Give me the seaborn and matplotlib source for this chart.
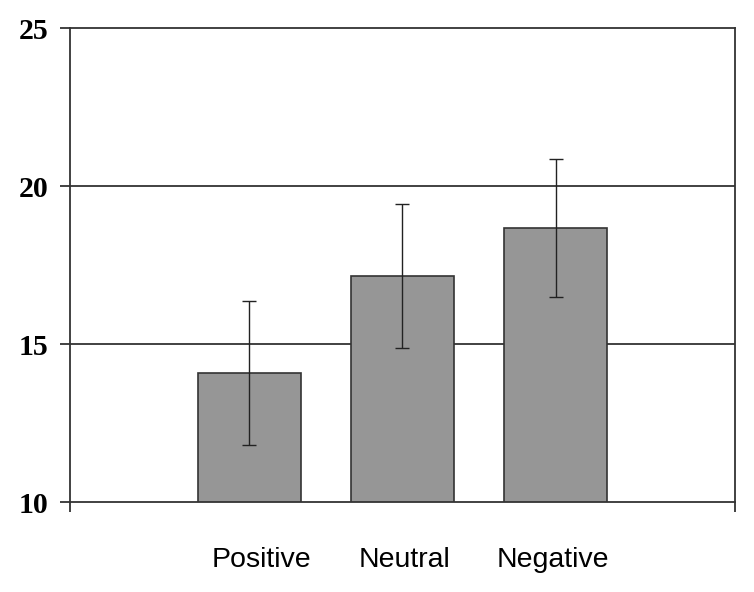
import numpy as np
import pandas as pd
import matplotlib
matplotlib.use("Agg")
import matplotlib.pyplot as plt
import seaborn as sns

categories = ["Positive", "Neutral", "Negative"]
means = [14.08, 17.15, 18.67]
errors = [2.29, 2.29, 2.18]
y_ticks = [10, 15, 20, 25]

sns.set_theme(style="white")
plt.rcParams['font.family'] = ['Liberation Sans', 'DejaVu Sans']

df = pd.DataFrame({"condition": categories, "score": means})

fig = plt.figure(figsize=(7.54, 5.92), dpi=100)
ax = fig.add_axes([0.0928, 0.152, 0.882, 0.8005])

sns.barplot(data=df, x="condition", y="score", color="#969696", saturation=1,
            width=0.67, edgecolor="#333333", linewidth=1.2, errorbar=None, ax=ax)
ax.errorbar(np.arange(len(categories)), means, yerr=errors, fmt="none",
            ecolor="#222222", elinewidth=1.0, capsize=5, capthick=1.0, zorder=5)

ax.set_ylim(10, 25)
ax.set_xlim(-1.17, 3.17)
ax.set_yticks(y_ticks)
ax.set_yticklabels([str(t) for t in y_ticks], fontfamily="Liberation Serif",
                   fontweight="bold", fontsize=21.5, color="black")
for t in [15, 20]:
    ax.axhline(t, color="#333333", lw=1.3, zorder=0)

# category labels sit slightly off the bar centres in the original
ax.set_xticks(np.arange(len(categories)) + np.array([0.08, 0.013, -0.02]))
ax.set_xticklabels(categories)
ax.set_xlabel("")
ax.set_ylabel("")
ax.tick_params(axis="x", which="major", length=0, pad=32.5, labelsize=20.5,
               labelcolor="black", bottom=True)
ax.set_xticks([-1.17, 3.17], minor=True)
ax.tick_params(axis="x", which="minor", length=7, width=1.3, color="#333333",
               direction="out", bottom=True)
ax.tick_params(axis="y", length=7.2, width=1.3, color="#333333", direction="out",
               pad=8, left=True)
for s in ax.spines.values():
    s.set_visible(True)
    s.set_color("#333333")
    s.set_linewidth(1.3)

fig.savefig("out.png", dpi=100)
